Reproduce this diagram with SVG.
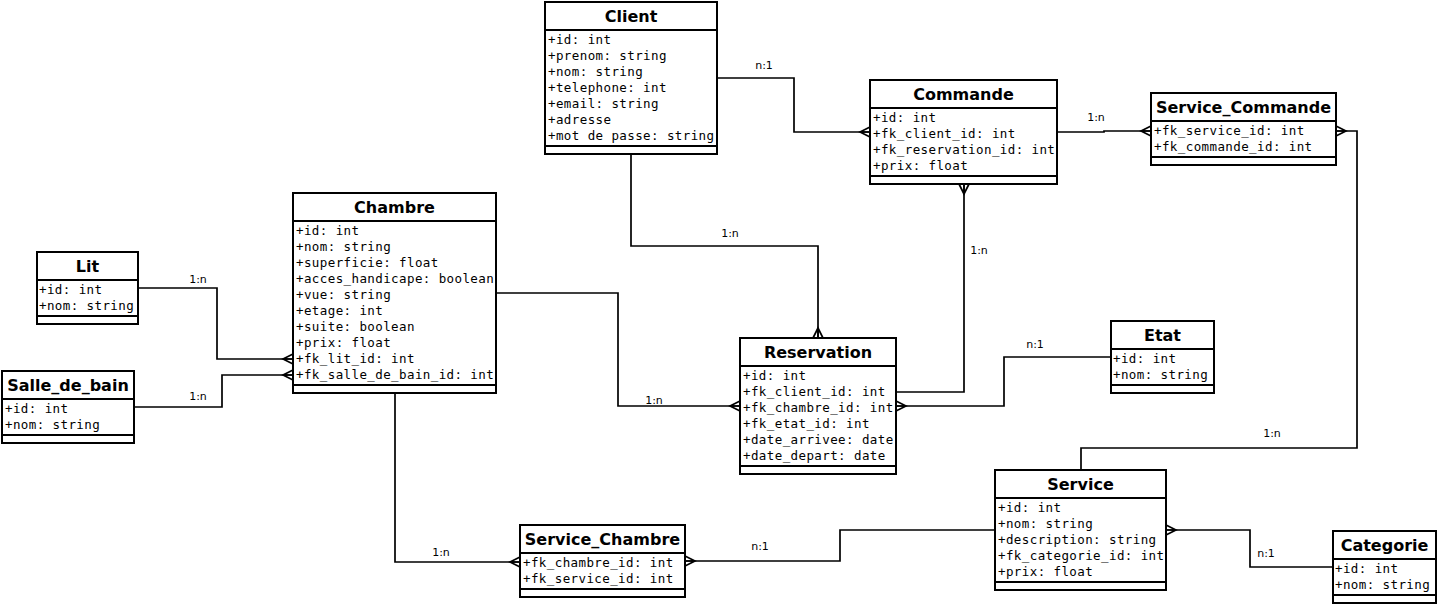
<svg xmlns="http://www.w3.org/2000/svg" width="1437" height="604" viewBox="0 0 1437 604">
<style>
.box{fill:#fff;stroke:#000;stroke-width:2}
.ln{stroke:#000;stroke-width:2}
.t{font-family:"DejaVu Sans",sans-serif;font-weight:bold;font-size:16px;text-anchor:middle;fill:#000}
.a{font-family:"DejaVu Sans Mono",monospace;font-size:12.5px;letter-spacing:0.4px;fill:#000}
.c{fill:none;stroke:#000;stroke-width:1.7}
.lb{font-family:"DejaVu Sans",sans-serif;font-size:11px;text-anchor:middle;fill:#000}
</style>
<defs>
<marker id="many" markerUnits="userSpaceOnUse" markerWidth="10" markerHeight="12" viewBox="0 0 10 12" refX="10" refY="6" orient="auto" overflow="visible">
<path d="M10,1 L0,6 L10,11 M0,6 L10,6" fill="none" stroke="#000" stroke-width="1.7"/>
</marker>
</defs>
<rect width="1437" height="604" fill="#fff"/>
<g id="connectors">
<path class="c" d="M717,78 H794 V132 H870" marker-end="url(#many)"/>
<path class="c" d="M1057,132 H1104 V131 H1151" marker-end="url(#many)"/>
<path class="c" d="M1081,470 V448 H1357 V131 H1336" marker-end="url(#many)"/>
<path class="c" d="M631,154 V246 H818 V338" marker-end="url(#many)"/>
<path class="c" d="M896,392 H964 V184" marker-end="url(#many)"/>
<path class="c" d="M496,293 H618 V406 H740" marker-end="url(#many)"/>
<path class="c" d="M1111,357 H1004 V406 H896" marker-end="url(#many)"/>
<path class="c" d="M138,288 H217 V359 H293" marker-end="url(#many)"/>
<path class="c" d="M134,407 H222 V375 H293" marker-end="url(#many)"/>
<path class="c" d="M395,393 V562 H520" marker-end="url(#many)"/>
<path class="c" d="M995,530 H840 V561 H685" marker-end="url(#many)"/>
<path class="c" d="M1333,567 H1250 V530 H1166" marker-end="url(#many)"/>
<text class="lb" x="764" y="69">n:1</text>
<text class="lb" x="1096" y="121">1:n</text>
<text class="lb" x="1272" y="437">1:n</text>
<text class="lb" x="730" y="237">1:n</text>
<text class="lb" x="979" y="254">1:n</text>
<text class="lb" x="654" y="404">1:n</text>
<text class="lb" x="1035" y="348">n:1</text>
<text class="lb" x="198" y="283">1:n</text>
<text class="lb" x="198" y="400">1:n</text>
<text class="lb" x="441" y="556">1:n</text>
<text class="lb" x="760" y="550">n:1</text>
<text class="lb" x="1266" y="557">n:1</text>
</g>
<g id="Client">
<rect class="box" x="545" y="2" width="172" height="152"/>
<line class="ln" x1="545" y1="30" x2="717" y2="30"/>
<line class="ln" x1="545" y1="146" x2="717" y2="146"/>
<text class="t" x="631" y="22">Client</text>
<text class="a" x="548" y="44">+id: int</text>
<text class="a" x="548" y="60">+prenom: string</text>
<text class="a" x="548" y="76">+nom: string</text>
<text class="a" x="548" y="92">+telephone: int</text>
<text class="a" x="548" y="108">+email: string</text>
<text class="a" x="548" y="124">+adresse</text>
<text class="a" x="548" y="140">+mot de passe: string</text>
</g>
<g id="Commande">
<rect class="box" x="870" y="80" width="187" height="104"/>
<line class="ln" x1="870" y1="108" x2="1057" y2="108"/>
<line class="ln" x1="870" y1="176" x2="1057" y2="176"/>
<text class="t" x="963.5" y="100">Commande</text>
<text class="a" x="873" y="122">+id: int</text>
<text class="a" x="873" y="138">+fk_client_id: int</text>
<text class="a" x="873" y="154">+fk_reservation_id: int</text>
<text class="a" x="873" y="170">+prix: float</text>
</g>
<g id="Service_Commande">
<rect class="box" x="1151" y="93" width="185" height="72"/>
<line class="ln" x1="1151" y1="121" x2="1336" y2="121"/>
<line class="ln" x1="1151" y1="157" x2="1336" y2="157"/>
<text class="t" x="1243.5" y="113">Service_Commande</text>
<text class="a" x="1154" y="135">+fk_service_id: int</text>
<text class="a" x="1154" y="151">+fk_commande_id: int</text>
</g>
<g id="Lit">
<rect class="box" x="37" y="252" width="101" height="72"/>
<line class="ln" x1="37" y1="280" x2="138" y2="280"/>
<line class="ln" x1="37" y1="316" x2="138" y2="316"/>
<text class="t" x="87.5" y="272">Lit</text>
<text class="a" x="39" y="294">+id: int</text>
<text class="a" x="39" y="310">+nom: string</text>
</g>
<g id="Salle_de_bain">
<rect class="box" x="2" y="371" width="132" height="72"/>
<line class="ln" x1="2" y1="399" x2="134" y2="399"/>
<line class="ln" x1="2" y1="435" x2="134" y2="435"/>
<text class="t" x="68" y="391">Salle_de_bain</text>
<text class="a" x="5" y="413">+id: int</text>
<text class="a" x="5" y="429">+nom: string</text>
</g>
<g id="Chambre">
<rect class="box" x="293" y="193" width="203" height="200"/>
<line class="ln" x1="293" y1="221" x2="496" y2="221"/>
<line class="ln" x1="293" y1="385" x2="496" y2="385"/>
<text class="t" x="394.5" y="213">Chambre</text>
<text class="a" x="296" y="235">+id: int</text>
<text class="a" x="296" y="251">+nom: string</text>
<text class="a" x="296" y="267">+superficie: float</text>
<text class="a" x="296" y="283">+acces_handicape: boolean</text>
<text class="a" x="296" y="299">+vue: string</text>
<text class="a" x="296" y="315">+etage: int</text>
<text class="a" x="296" y="331">+suite: boolean</text>
<text class="a" x="296" y="347">+prix: float</text>
<text class="a" x="296" y="363">+fk_lit_id: int</text>
<text class="a" x="296" y="379">+fk_salle_de_bain_id: int</text>
</g>
<g id="Reservation">
<rect class="box" x="740" y="338" width="156" height="136"/>
<line class="ln" x1="740" y1="366" x2="896" y2="366"/>
<line class="ln" x1="740" y1="466" x2="896" y2="466"/>
<text class="t" x="818" y="358">Reservation</text>
<text class="a" x="743" y="380">+id: int</text>
<text class="a" x="743" y="396">+fk_client_id: int</text>
<text class="a" x="743" y="412">+fk_chambre_id: int</text>
<text class="a" x="743" y="428">+fk_etat_id: int</text>
<text class="a" x="743" y="444">+date_arrivee: date</text>
<text class="a" x="743" y="460">+date_depart: date</text>
</g>
<g id="Etat">
<rect class="box" x="1111" y="321" width="103" height="72"/>
<line class="ln" x1="1111" y1="349" x2="1214" y2="349"/>
<line class="ln" x1="1111" y1="385" x2="1214" y2="385"/>
<text class="t" x="1162.5" y="341">Etat</text>
<text class="a" x="1113" y="363">+id: int</text>
<text class="a" x="1113" y="379">+nom: string</text>
</g>
<g id="Service">
<rect class="box" x="995" y="470" width="171" height="120"/>
<line class="ln" x1="995" y1="498" x2="1166" y2="498"/>
<line class="ln" x1="995" y1="582" x2="1166" y2="582"/>
<text class="t" x="1080.5" y="490">Service</text>
<text class="a" x="998" y="512">+id: int</text>
<text class="a" x="998" y="528">+nom: string</text>
<text class="a" x="998" y="544">+description: string</text>
<text class="a" x="998" y="560">+fk_categorie_id: int</text>
<text class="a" x="998" y="576">+prix: float</text>
</g>
<g id="Categorie">
<rect class="box" x="1333" y="531" width="103" height="72"/>
<line class="ln" x1="1333" y1="559" x2="1436" y2="559"/>
<line class="ln" x1="1333" y1="595" x2="1436" y2="595"/>
<text class="t" x="1384.5" y="551">Categorie</text>
<text class="a" x="1335" y="573">+id: int</text>
<text class="a" x="1335" y="589">+nom: string</text>
</g>
<g id="Service_Chambre">
<rect class="box" x="520" y="525" width="165" height="72"/>
<line class="ln" x1="520" y1="553" x2="685" y2="553"/>
<line class="ln" x1="520" y1="589" x2="685" y2="589"/>
<text class="t" x="602.5" y="545">Service_Chambre</text>
<text class="a" x="523" y="567">+fk_chambre_id: int</text>
<text class="a" x="523" y="583">+fk_service_id: int</text>
</g>
</svg>
